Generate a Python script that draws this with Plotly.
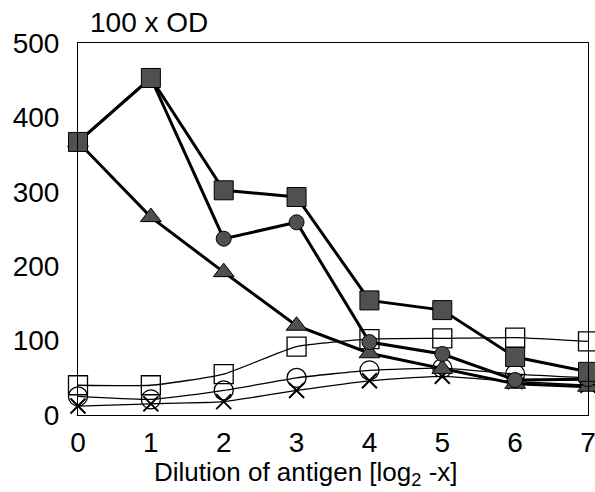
import plotly.graph_objects as go

x = [0, 1, 2, 3, 4, 5, 6, 7]
filled_square = [367, 453, 302, 293, 154, 141, 78, 58]
filled_circle = [367, 453, 237, 259, 98, 82, 47, 48]
filled_triangle = [367, 266, 192, 120, 83, 62, 42, 38]
open_square = [40, 40, 55, 92, 102, 103, 104, 99]
open_circle = [25, 21, 33, 50, 60, 63, 55, 50]
cross = [12, 15, 18, 33, 46, 52, 45, 40]

x_ticks = [0, 1, 2, 3, 4, 5, 6, 7]
y_ticks = [0, 100, 200, 300, 400, 500]

FONT = "Liberation Sans, Arial, sans-serif"
W, H = 595, 492
L, R, T, B = 78, 7, 43, 77
PW, PH = W - L - R, H - T - B

fig = go.Figure()

thin = dict(color="black", width=1.3, shape="spline", smoothing=0.5)
fig.add_trace(go.Scatter(x=x, y=open_square, mode="lines+markers", line=thin,
                         marker=dict(symbol="square-open", size=19, color="black", line=dict(width=1.3))))
fig.add_trace(go.Scatter(x=x, y=open_circle, mode="lines+markers", line=thin,
                         marker=dict(symbol="circle-open", size=19, color="black", line=dict(width=1.3))))
fig.add_trace(go.Scatter(x=x, y=cross, mode="lines+markers", line=thin,
                         marker=dict(symbol="x-thin-open", size=15, color="black", line=dict(width=2, color="black"))))

thick = dict(color="black", width=3)
fill = "#505050"
fig.add_trace(go.Scatter(x=x, y=filled_triangle, mode="lines+markers", line=thick,
                         marker=dict(symbol="triangle-up", size=18, color=fill, line=dict(width=1, color="black"))))
fig.add_trace(go.Scatter(x=x, y=filled_circle, mode="lines+markers", line=thick,
                         marker=dict(symbol="circle", size=15, color=fill, line=dict(width=1, color="black"))))
fig.add_trace(go.Scatter(x=x, y=filled_square, mode="lines+markers", line=thick,
                         marker=dict(symbol="square", size=19, color=fill, line=dict(width=1, color="black"))))

fig.update_traces(cliponaxis=False)

fig.update_layout(
    width=W, height=H,
    margin=dict(l=L, r=R, t=T, b=B, autoexpand=False),
    paper_bgcolor="white", plot_bgcolor="white",
    showlegend=False,
    font=dict(family=FONT, size=28, color="black"),
    xaxis=dict(range=[0, 7], tickvals=x_ticks, ticks="", showgrid=False, zeroline=False,
               showline=True, linecolor="black", linewidth=1, mirror=True, automargin=False,
               tickfont=dict(size=28), ticklabelstandoff=2, ticklabeloverflow="allow"),
    yaxis=dict(range=[0, 500], tickvals=y_ticks, ticks="", showgrid=False, zeroline=False,
               showline=True, linecolor="black", linewidth=1, mirror=True, automargin=False,
               tickfont=dict(size=28), ticklabelstandoff=12, ticklabeloverflow="allow"),
    annotations=[
        dict(text="100 x OD", x=(88 - L) / PW, y=1 + (T - 22) / PH, xref="paper", yref="paper",
             showarrow=False, xanchor="left", yanchor="middle", font=dict(size=28)),
        dict(text="Dilution of antigen [log<sub>2</sub> -x]", x=(306 - L) / PW, y=-(473 - T - PH) / PH,
             xref="paper", yref="paper", showarrow=False, xanchor="center", yanchor="middle",
             font=dict(size=26)),
    ],
)

fig.write_html("out.html", config={"displayModeBar": False},
               post_script="document.body.style.margin='0';document.body.style.padding='0';")
